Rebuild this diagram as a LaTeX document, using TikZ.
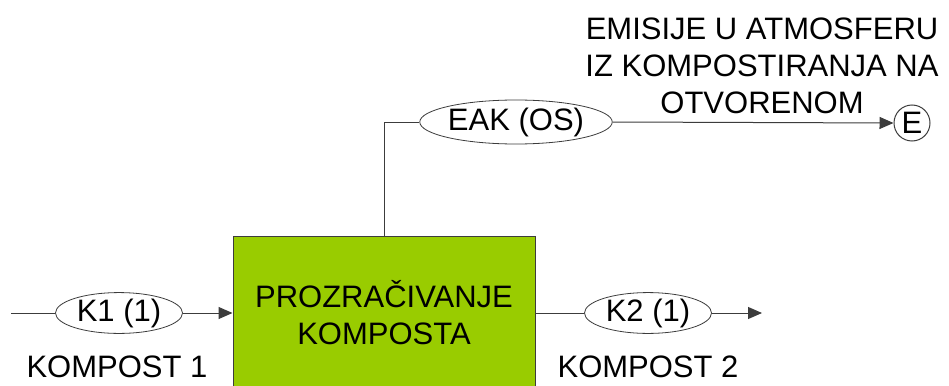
\documentclass[tikz,border=0pt]{standalone}
\usepackage{fontspec}
\setmainfont{Liberation Sans}
\usetikzlibrary{shapes.geometric,arrows.meta}
\definecolor{boxgreen}{RGB}{153,204,0}
\definecolor{linegray}{RGB}{60,60,60}
\begin{document}
\begin{tikzpicture}[x=1pt,y=-1pt,
  every node/.style={font=\fontsize{31}{37}\selectfont},
  flow/.style={draw=linegray,line width=1pt},
  tip/.style={-{Triangle[length=14pt,width=12pt]}},
  oval/.style={ellipse,draw=linegray,line width=0.8pt,inner sep=0pt},
  procbox/.style={draw=linegray,line width=1pt,fill=boxgreen,align=center,inner sep=0pt},
  endpt/.style={circle,draw=linegray,line width=1pt,inner sep=0pt,minimum size=36pt},
  lbl/.style={align=center,inner sep=0pt}]
\clip (0,0) rectangle (949,385);
\fill[white] (0,0) rectangle (949,385);
\node[procbox,minimum width=302pt,minimum height=154pt] (box) at (384,313) {PROZRAČIVANJE\\KOMPOSTA};
\node[oval,minimum width=127pt,minimum height=38pt] (k1) at (119,313) {K1 (1)};
\node[oval,minimum width=127pt,minimum height=38pt] (k2) at (648,313) {K2 (1)};
\node[oval,minimum width=180pt,minimum height=44pt] (eak) at (516,122) {EAK (OS)};
\node[endpt] (e) at (912,123) {E};
\coordinate (in) at (11,313);
\coordinate (out) at (762,313);
\node[lbl] (l1) at (117,367) {KOMPOST 1};
\node[lbl] (l2) at (648,367) {KOMPOST 2};
\node[lbl] (l3) at (762,66) {EMISIJE U ATMOSFERU\\IZ KOMPOSTIRANJA NA\\OTVORENOM};
\draw[flow] (in) -- (k1);
\draw[flow,tip] (k1) -- (box.west |- k1);
\draw[flow] (box.east |- k2) -- (k2);
\draw[flow,tip] (k2) -- (out);
\draw[flow] (box.north) |- (eak.west);
\draw[flow,tip] (eak.east) -- (e.west);
\end{tikzpicture}
\end{document}
